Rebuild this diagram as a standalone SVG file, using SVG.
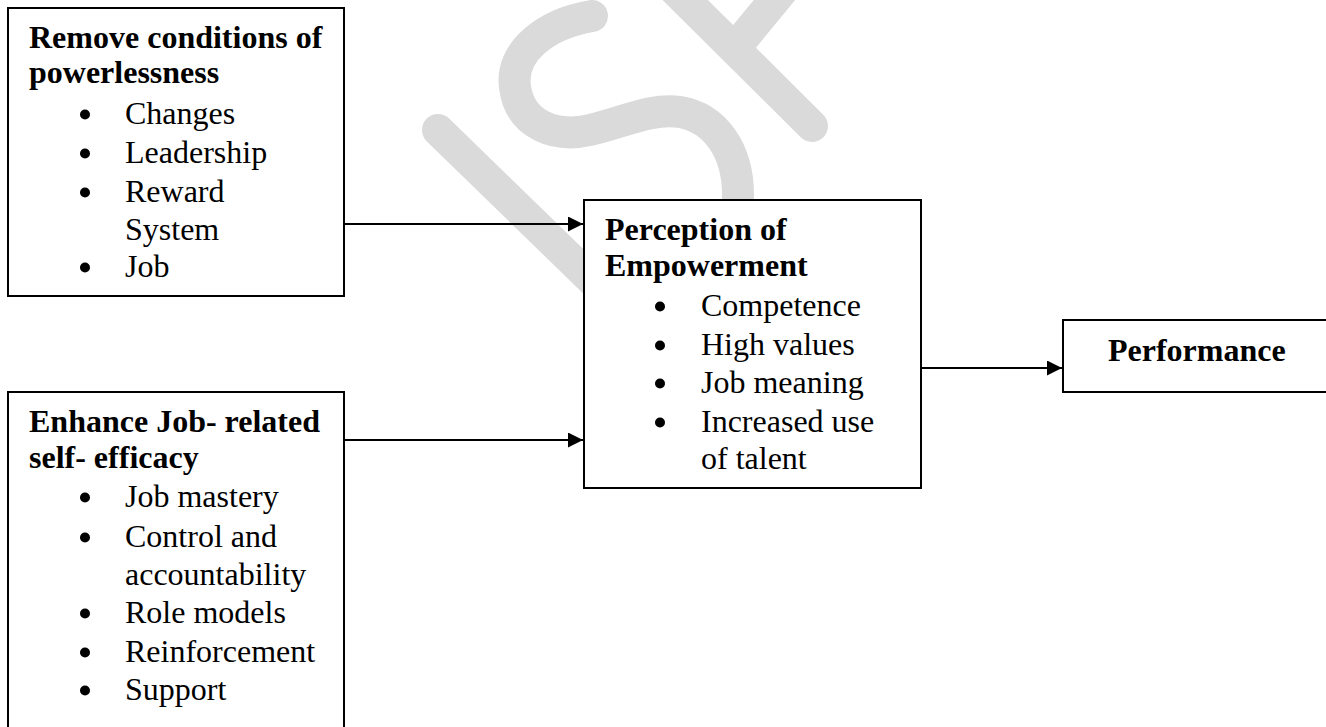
<svg xmlns="http://www.w3.org/2000/svg" width="1326" height="727" viewBox="0 0 1326 727">
<style>
.box{fill:#fff;stroke:#000;stroke-width:2}
.h{font-family:"Liberation Serif","Times New Roman",serif;font-size:32px;font-weight:bold;fill:#000}
.t{font-family:"Liberation Serif","Times New Roman",serif;font-size:32px;fill:#000}
.b{fill:#000}
.wm{fill:none;stroke:#dadada;stroke-width:32;stroke-linecap:round}
.conn{stroke:#000;stroke-width:2;fill:none}
</style>
<defs>
<marker id="arr" markerUnits="userSpaceOnUse" markerWidth="15" markerHeight="15" refX="15" refY="7.5" orient="auto">
<path d="M0,0 L15,7.5 L0,15 z" fill="#000"/>
</marker>
</defs>
<rect width="1326" height="727" fill="#fff"/>
<g id="watermark">
<path class="wm" d="M438,130 L620,307"/>
<path class="wm" d="M592,16 C545,24 510,52 515,87 C520,125 555,138 590,130 C625,122 650,108 680,112 C715,118 738,150 738,195 L738,240"/>
<path class="wm" d="M655,-30 L812,126"/>
<path class="wm" d="M735,48 L795,-25"/>
</g>
<g id="connectors">
<line class="conn" x1="344" y1="224" x2="583" y2="224" marker-end="url(#arr)"/>
<line class="conn" x1="344" y1="440" x2="583" y2="440" marker-end="url(#arr)"/>
<line class="conn" x1="921" y1="368" x2="1062" y2="368" marker-end="url(#arr)"/>
</g>
<g id="remove-conditions">
<rect class="box" x="8" y="8" width="336" height="288"/>
<text class="h" x="29" y="48">Remove conditions of</text>
<text class="h" x="29" y="83">powerlessness</text>
<circle class="b" cx="85" cy="114.5" r="5"/><text class="t" x="125" y="124">Changes</text>
<circle class="b" cx="85" cy="153.5" r="5"/><text class="t" x="125" y="163">Leadership</text>
<circle class="b" cx="85" cy="192.5" r="5"/><text class="t" x="125" y="202">Reward</text>
<text class="t" x="125" y="240">System</text>
<circle class="b" cx="85" cy="267.5" r="5"/><text class="t" x="125" y="277">Job</text>
</g>
<g id="enhance-self-efficacy">
<rect class="box" x="8" y="392" width="336" height="350"/>
<text class="h" x="29" y="432">Enhance Job- related</text>
<text class="h" x="29" y="468">self- efficacy</text>
<circle class="b" cx="85" cy="497.5" r="5"/><text class="t" x="125" y="507">Job mastery</text>
<circle class="b" cx="85" cy="537.5" r="5"/><text class="t" x="125" y="547">Control and</text>
<text class="t" x="125" y="585">accountability</text>
<circle class="b" cx="85" cy="613.5" r="5"/><text class="t" x="125" y="623">Role models</text>
<circle class="b" cx="85" cy="652.5" r="5"/><text class="t" x="125" y="662">Reinforcement</text>
<circle class="b" cx="85" cy="690.5" r="5"/><text class="t" x="125" y="700">Support</text>
</g>
<g id="perception-of-empowerment">
<rect class="box" x="584" y="200" width="337" height="288"/>
<text class="h" x="605" y="240">Perception of</text>
<text class="h" x="605" y="276">Empowerment</text>
<circle class="b" cx="660" cy="306.5" r="5"/><text class="t" x="701" y="316">Competence</text>
<circle class="b" cx="660" cy="345.5" r="5"/><text class="t" x="701" y="355">High values</text>
<circle class="b" cx="660" cy="383.5" r="5"/><text class="t" x="701" y="393">Job meaning</text>
<circle class="b" cx="660" cy="422.5" r="5"/><text class="t" x="701" y="432">Increased use</text>
<text class="t" x="701" y="469">of talent</text>
</g>
<g id="performance">
<rect class="box" x="1063" y="320" width="280" height="72"/>
<text class="h" x="1108" y="361">Performance</text>
</g>
</svg>
